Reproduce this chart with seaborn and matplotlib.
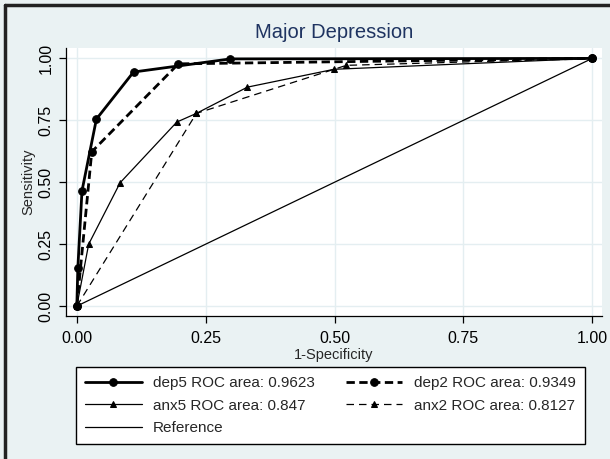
import pandas as pd
import matplotlib.pyplot as plt
import seaborn as sns

# ROC points (1-specificity, sensitivity)
dep5_x = [0.0, 0.002, 0.01, 0.038, 0.11, 0.298, 1.0]
dep5_y = [0.0, 0.155, 0.465, 0.755, 0.945, 0.998, 1.0]
dep2_x = [0.0, 0.029, 0.197, 1.0]
dep2_y = [0.0, 0.623, 0.978, 1.0]
anx5_x = [0.0, 0.023, 0.084, 0.194, 0.232, 0.331, 0.499, 1.0]
anx5_y = [0.0, 0.25, 0.498, 0.743, 0.778, 0.884, 0.956, 1.0]
anx2_x = [0.0, 0.232, 0.523, 1.0]
anx2_y = [0.0, 0.778, 0.972, 1.0]
ref_x = [0.0, 1.0]
ref_y = [0.0, 1.0]

labels = ['dep5 ROC area: 0.9623', 'dep2 ROC area: 0.9349',
          'anx5 ROC area: 0.847', 'anx2 ROC area: 0.8127', 'Reference']
ticks = [0.0, 0.25, 0.5, 0.75, 1.0]
tick_labels = ['0.00', '0.25', '0.50', '0.75', '1.00']

sns.set_style('white')
plt.rcParams['font.family'] = ['Liberation Sans', 'DejaVu Sans']

bg = '#EAF2F3'
fig = plt.figure(figsize=(6.1, 4.59), dpi=100, facecolor=bg)
W, H = 610, 459
ax = fig.add_axes([66 / W, 1 - 316 / H, (602 - 66) / W, (316 - 48) / H])
ax.set_facecolor('white')

series = [
    (dep5_x, dep5_y, labels[0], dict(linewidth=2.0, marker='o',
                                     markersize=5.5, linestyle='-')),
    (dep2_x, dep2_y, labels[1], dict(linewidth=2.0, marker='o',
                                     markersize=5.5, dashes=(3, 1.6))),
    (anx5_x, anx5_y, labels[2], dict(linewidth=0.9, marker='^',
                                     markersize=5, linestyle='-')),
    (anx2_x, anx2_y, labels[3], dict(linewidth=0.9, marker='^',
                                     markersize=5, dashes=(6, 4))),
    (ref_x, ref_y, labels[4], dict(linewidth=0.9, linestyle='-')),
]

handles = {}
for xs, ys, lab, kw in series:
    df = pd.DataFrame({'x': xs, 'y': ys})
    sns.lineplot(data=df, x='x', y='y', ax=ax, color='black',
                 estimator=None, sort=False, label=lab,
                 markeredgecolor='black', **kw)
    handles[lab] = ax.lines[-1]

if ax.legend_:
    ax.legend_.remove()

ax.set_xlim(-0.021, 1.019)
ax.set_ylim(-0.04, 1.042)
ax.set_xticks(ticks)
ax.set_xticklabels(tick_labels)
ax.set_yticks(ticks)
ax.set_yticklabels(tick_labels, rotation=90, va='center')
ax.tick_params(axis='both', direction='out', length=5, width=0.9,
               color='black', labelsize=11.5, labelcolor='black', pad=4,
               left=True, bottom=True)
ax.tick_params(axis='x', pad=6)
ax.grid(True, color='#E4EEF1', linewidth=1)
for side in ['top', 'right']:
    ax.spines[side].set_visible(False)
for side in ['left', 'bottom']:
    ax.spines[side].set_color('black')
    ax.spines[side].set_linewidth(0.9)

ax.set_xlabel('1-Specificity', fontsize=10.5, labelpad=1)
ax.set_ylabel('Sensitivity', fontsize=10.5, labelpad=2)

fig.text((66 + 602) / 2 / W, 1 - 33 / H, 'Major Depression',
         fontsize=14.5, color='#1F3461', ha='center', va='center')

order = [labels[0], labels[2], labels[4], labels[1], labels[3]]
leg = fig.legend([handles[k] for k in order], order, ncol=2,
                 loc='upper left', bbox_to_anchor=(76 / W, 1 - 367 / H),
                 borderaxespad=0, fontsize=11, handlelength=3.7,
                 handletextpad=0.75, labelspacing=0.55, columnspacing=2.0,
                 fancybox=False, framealpha=1, edgecolor='black',
                 borderpad=0.6)
leg.get_frame().set_linewidth(1.0)

# dark frame along top and left edge of the picture
fig.add_artist(plt.Line2D([5 / W, 1], [1 - 5 / H, 1 - 5 / H],
                          transform=fig.transFigure, color='#222222',
                          linewidth=2.5))
fig.add_artist(plt.Line2D([5 / W, 5 / W], [0, 1 - 5 / H],
                          transform=fig.transFigure, color='#222222',
                          linewidth=2.5))

fig.savefig('out.png', dpi=100, facecolor=bg)
